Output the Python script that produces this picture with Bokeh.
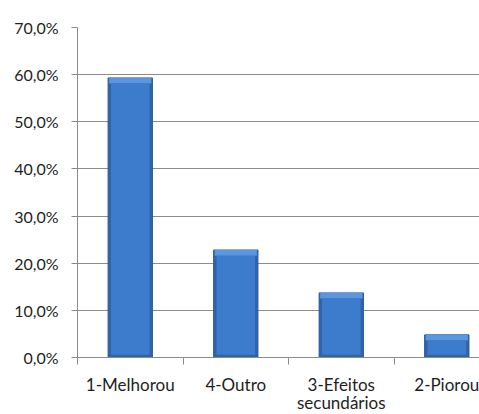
from bokeh.plotting import figure
from bokeh.models import FixedTicker, Range1d, ColumnDataSource
from bokeh.embed import file_html
from bokeh.resources import INLINE

categories = ["1-Melhorou", "4-Outro", "3-Efeitos\nsecundários", "2-Piorou"]
values = [59.3, 22.8, 13.7, 4.8]
y_ticks = [0, 10, 20, 30, 40, 50, 60, 70]
y_tick_labels = ["0,0%", "10,0%", "20,0%", "30,0%", "40,0%", "50,0%", "60,0%", "70,0%"]

xs = [i + 0.5 for i in range(len(categories))]
bevel = 1.2
src = ColumnDataSource(dict(
    x=xs, top=values,
    inner_top=[v - bevel for v in values],
))

p = figure(width=479, height=414, output_backend="svg", toolbar_location=None,
           x_range=Range1d(0, 3.81), y_range=Range1d(0, 70),
           min_border_left=77, min_border_top=27, min_border_bottom=57, min_border_right=0)
p.frame_width = 402
p.frame_height = 330
p.outline_line_color = None
p.background_fill_color = "white"
p.border_fill_color = "white"

# bar body (darker edges), top bevel highlight, and lighter centre
p.vbar(x="x", top="top", width=0.42, bottom=0, source=src,
       fill_color="#2f64ad", line_color="#29589a", line_width=1)
p.vbar(x="x", top="top", bottom="inner_top", width=0.40, source=src,
       fill_color="#5a97de", line_color=None)
p.vbar(x="x", top="inner_top", bottom=0.6, width=0.365, source=src,
       fill_color="#3d7bcc", line_color=None)

font = "Lato"
# y axis
p.yaxis.ticker = FixedTicker(ticks=y_ticks)
p.yaxis.major_label_overrides = {t: l for t, l in zip(y_ticks, y_tick_labels)}
p.yaxis.major_tick_out = 6
p.yaxis.major_tick_in = 0
p.yaxis.minor_tick_out = 0
p.yaxis.major_label_standoff = 13
p.yaxis.axis_line_color = "#8c8c8c"
p.yaxis.major_tick_line_color = "#8c8c8c"
p.yaxis.major_label_text_font = font
p.yaxis.major_label_text_font_size = "16px"
p.yaxis.major_label_text_color = "#1e1e1e"

# x axis
p.xaxis.ticker = FixedTicker(ticks=xs, minor_ticks=[0, 1, 2, 3])
p.xaxis.major_label_overrides = {x: c for x, c in zip(xs, categories)}
p.xaxis.major_tick_out = 0
p.xaxis.major_tick_in = 0
p.xaxis.minor_tick_out = 7
p.xaxis.minor_tick_in = 0
p.xaxis.minor_tick_line_color = "#8c8c8c"
p.xaxis.axis_line_color = "#8c8c8c"
p.xaxis.major_label_standoff = 9
p.xaxis.major_label_text_font = font
p.xaxis.major_label_text_font_size = "17px"
p.xaxis.major_label_text_line_height = 0.88
p.xaxis.major_label_text_color = "#1e1e1e"

p.xgrid.grid_line_color = None
p.ygrid.ticker = FixedTicker(ticks=y_ticks)
p.ygrid.grid_line_color = "#8c8c8c"
p.ygrid.grid_line_alpha = 1.0

open("out.html", "w").write(file_html(p, INLINE))
